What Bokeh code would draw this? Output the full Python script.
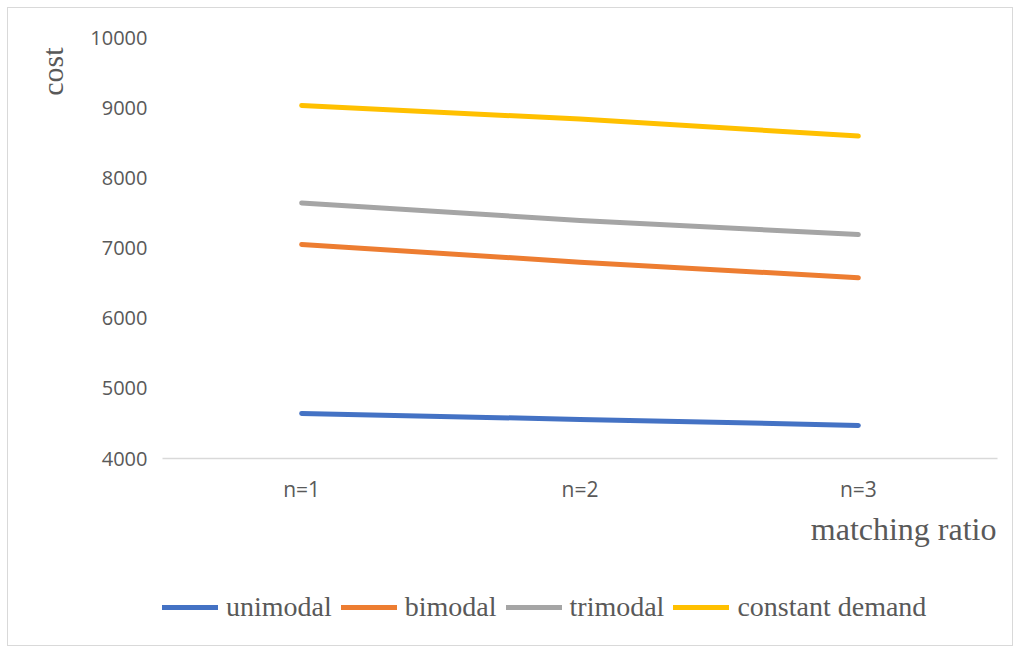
from bokeh.plotting import figure
from bokeh.layouts import column
from bokeh.models import FactorRange, Range1d, Legend, LegendItem, FixedTicker, Title, Label
from bokeh.embed import file_html
from bokeh.resources import INLINE

categories = ["n=1", "n=2", "n=3"]
unimodal = [4643, 4557, 4472]
bimodal = [7050, 6798, 6576]
trimodal = [7643, 7391, 7192]
constant_demand = [9031, 8837, 8595]
series_names = ["unimodal", "bimodal", "trimodal", "constant demand"]
series_values = [unimodal, bimodal, trimodal, constant_demand]
colors = ["#4472C4", "#ED7D31", "#A5A5A5", "#FFC000"]
y_ticks = [4000, 5000, 6000, 7000, 8000, 9000, 10000]

W = 1004
H1, H2 = 497, 140
TEXT = "#595959"

# ---------------- main chart ----------------
p = figure(width=W, height=H1, x_range=FactorRange(*categories), y_range=Range1d(4000, 10000),
           output_backend="svg", toolbar_location=None,
           min_border_left=154, min_border_right=15, min_border_top=29, min_border_bottom=47)
p.outline_line_color = None
p.xgrid.visible = False
p.ygrid.visible = False
p.border_fill_color = "white"

p.xaxis.axis_line_color = "#d9d9d9"
p.xaxis.axis_line_width = 1.5
p.xaxis.major_tick_line_color = None
p.xaxis.minor_tick_line_color = None
p.xaxis.major_label_standoff = 10
p.xaxis.major_label_text_font = "Open Sans"
p.xaxis.major_label_text_font_size = "21px"
p.xaxis.major_label_text_color = TEXT

p.yaxis.ticker = FixedTicker(ticks=y_ticks)
p.yaxis.axis_line_color = None
p.yaxis.major_tick_line_color = None
p.yaxis.minor_tick_line_color = None
p.yaxis.major_label_standoff = 9
p.yaxis.major_label_text_font = "Open Sans"
p.yaxis.major_label_text_font_size = "20px"
p.yaxis.major_label_text_color = TEXT

for name, vals, c in zip(series_names, series_values, colors):
    p.line(x=categories, y=vals, line_width=5, line_color=c, line_cap="round", line_join="round")

p.add_layout(Title(text="cost", align="right", offset=10, standoff=37,
                   text_font="Liberation Serif", text_font_size="30px",
                   text_font_style="normal", text_color=TEXT), "left")

# ---------------- x-axis title + legend strip ----------------
q = figure(width=W, height=H2, x_range=FactorRange(*categories), y_range=Range1d(0, 1),
           output_backend="svg", toolbar_location=None,
           min_border_left=0, min_border_right=0, min_border_top=0, min_border_bottom=0,
           x_axis_location=None, y_axis_location=None)
q.outline_line_color = None
q.xgrid.visible = False
q.ygrid.visible = False
q.border_fill_color = "white"

items = []
for name, vals, c in zip(series_names, series_values, colors):
    # same series; outside this strip's y-range, used only for legend swatches
    r = q.line(x=categories, y=vals, line_width=5, line_color=c, line_cap="round")
    items.append(LegendItem(label=name, renderers=[r]))

q.add_layout(Label(x=834, y=117, x_units="screen", y_units="screen", text="matching ratio",
                   text_align="right", text_baseline="middle",
                   text_font="Liberation Serif", text_font_size="32px", text_color=TEXT))

legend = Legend(items=items, orientation="horizontal", location=(0, 22),
                glyph_width=56, glyph_height=20, label_standoff=8, spacing=9,
                padding=0, margin=0, border_line_color=None, background_fill_alpha=0,
                label_text_font="Liberation Serif", label_text_font_size="28px",
                label_text_color=TEXT)
q.add_layout(legend, "center")

layout = column(p, q, spacing=0,
                styles={"margin": "7px 0 0 7px", "border": "1px solid #d9d9d9"})

open("out.html", "w").write(file_html(layout, INLINE))
